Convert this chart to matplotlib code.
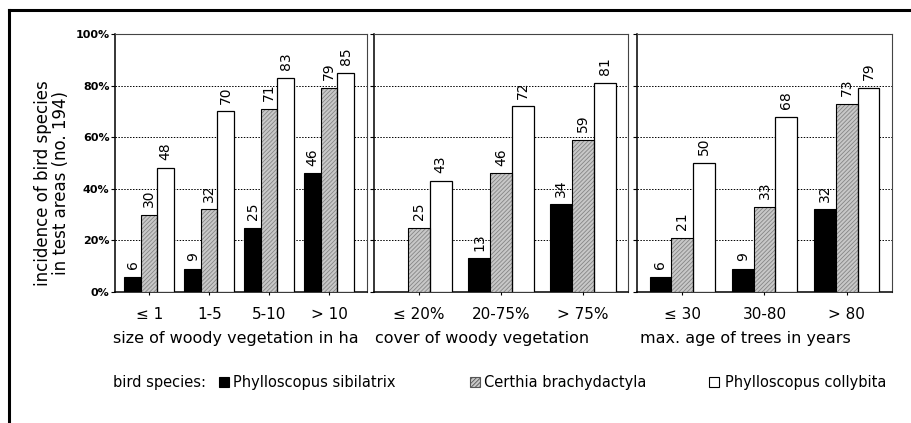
import matplotlib.pyplot as plt
import numpy as np

plt.rcParams['font.family'] = ['DejaVu Sans']
plt.rcParams['hatch.linewidth'] = 0.6

# data (percent of test areas)
cats_size = ['≤ 1', '1-5', '5-10', '> 10']
sib_size = [6, 9, 25, 46]
cer_size = [30, 32, 71, 79]
col_size = [48, 70, 83, 85]

cats_cover = ['≤ 20%', '20-75%', '> 75%']
sib_cover = [0, 13, 34]
cer_cover = [25, 46, 59]
col_cover = [43, 72, 81]

cats_age = ['≤ 30', '30-80', '> 80']
sib_age = [6, 9, 32]
cer_age = [21, 33, 73]
col_age = [50, 68, 79]

xlabels = ['size of woody vegetation in ha', 'cover of woody vegetation',
           'max. age of trees in years']
species = ['Phylloscopus sibilatrix', 'Certhia brachydactyla', 'Phylloscopus collybita']

W, H = 912, 423
fig = plt.figure(figsize=(W / 100, H / 100), dpi=100)


def px(x0, y0, x1, y1):
    return [x0 / W, 1 - y1 / H, (x1 - x0) / W, (y1 - y0) / H]


panels = [
    (px(115, 34, 367, 292), cats_size, sib_size, cer_size, col_size, (-0.57, 3.63), 0.275),
    (px(374, 34, 628, 292), cats_cover, sib_cover, cer_cover, col_cover, (-0.55, 2.55), 0.265),
    (px(637, 34, 892, 292), cats_age, sib_age, cer_age, col_age, (-0.55, 2.55), 0.265),
]

for i, (rect, cats, sib, cer, col, xl, w) in enumerate(panels):
    ax = fig.add_axes(rect)
    x = np.arange(len(cats))
    groups = [(sib, -w), (cer, 0), (col, w)]
    ax.bar(x - w, sib, w, color='black', edgecolor='black', linewidth=0.8, zorder=3)
    ax.bar(x, cer, w, color='#c8c8c8', edgecolor='#858585', hatch='////////',
           linewidth=0, zorder=3)
    ax.bar(x, cer, w, fill=False, edgecolor='black', linewidth=0.8, zorder=4)
    ax.bar(x + w, col, w, color='white', edgecolor='black', linewidth=0.9, zorder=3)
    for vals, off in groups:
        for xi, v in zip(x, vals):
            if v > 0:
                ax.text(xi + off, v + 3, str(v), rotation=90, ha='center', va='bottom',
                        fontsize=10, zorder=5)
    ax.set_xlim(*xl)
    ax.set_ylim(0, 100)
    ax.set_yticks([0, 20, 40, 60, 80, 100])
    for g in [20, 40, 60, 80]:
        ax.axhline(g, color='black', linestyle=(0, (1.5, 1.5)), linewidth=0.7, zorder=1)
    ax.set_xticks(x)
    ax.set_xticklabels(cats, fontsize=11)
    ax.tick_params(axis='x', length=2, width=0.8, pad=9)
    ax.tick_params(axis='y', length=3, width=0.8, direction='out', pad=1)
    if i == 0:
        ax.set_yticklabels(['0%', '20%', '40%', '60%', '80%', '100%'], fontsize=8,
                           fontweight='bold')
    else:
        ax.set_yticklabels([])
    for s in ['left', 'bottom']:
        ax.spines[s].set_linewidth(1.1)
    for s in ['right', 'top']:
        ax.spines[s].set_linewidth(0.8)
        ax.spines[s].set_color('#444444')

# axis titles under panels
fig.text(113 / W, 1 - 338 / H, xlabels[0], fontsize=11.5, ha='left', va='center')
fig.text(375 / W, 1 - 338 / H, xlabels[1], fontsize=11.5, ha='left', va='center')
fig.text(640 / W, 1 - 338 / H, xlabels[2], fontsize=11.5, ha='left', va='center')

fig.text(52 / W, 1 - 183 / H, 'incidence of bird species\nin test areas (no. 194)',
         rotation=90, fontsize=12, ha='center', va='center', multialignment='center',
         linespacing=1.05)

# legend row
ly = 1 - 382 / H
fig.text(113 / W, ly, 'bird species:', fontsize=10.5, ha='left', va='center')
leg = [(219, 'black', None, species[0], 233),
       (470, '#c8c8c8', '////////', species[1], 484),
       (709, 'white', None, species[2], 725)]
for x0, fc, hatch, name, tx in leg:
    fig.patches.append(plt.Rectangle((x0 / W, 1 - 387 / H), 10 / W, 10 / H,
                                     transform=fig.transFigure, facecolor=fc,
                                     edgecolor='black' if hatch is None else '#555555',
                                     hatch=hatch, linewidth=0.8))
    fig.text(tx / W, ly, name, fontsize=10.5, ha='left', va='center')

# frame lines: top and left
fig.add_artist(plt.Line2D([9 / W, 1], [1 - 10 / H, 1 - 10 / H], color='black',
                          linewidth=2.2, transform=fig.transFigure))
fig.add_artist(plt.Line2D([9 / W, 9 / W], [0, 1 - 10 / H], color='black',
                          linewidth=2.2, transform=fig.transFigure))

fig.savefig('out.png', dpi=100)
